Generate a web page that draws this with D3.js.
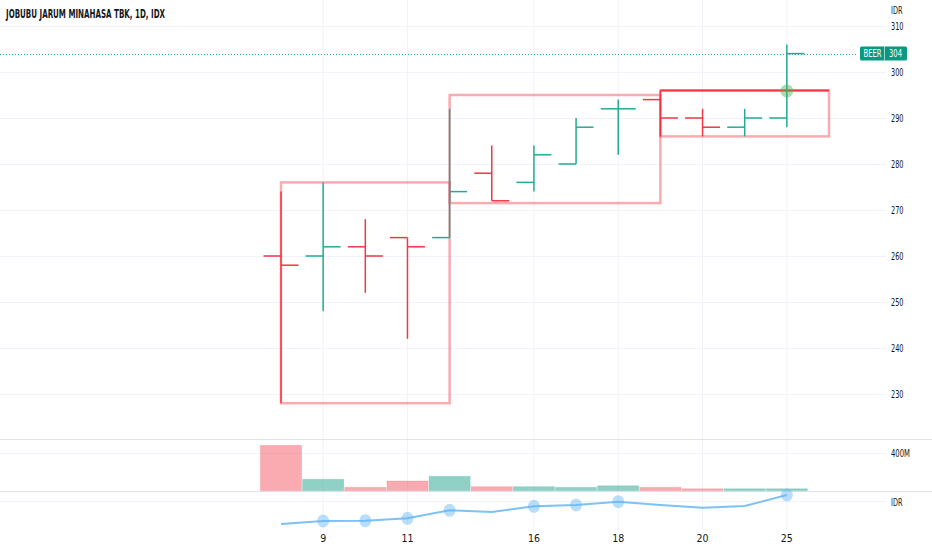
<!DOCTYPE html>
<html>
<head>
<meta charset="utf-8">
<script src="https://cdn.jsdelivr.net/npm/d3@7"></script>
<style>
html,body{margin:0;padding:0;background:#fff;}
svg{display:block;}
text{font-family:"Liberation Sans Narrow","DejaVu Sans Condensed","Liberation Sans",sans-serif;}
</style>
</head>
<body>
<svg id="chart" width="932" height="550"></svg>
<script>
// ---------- data ----------
const title = "JOBUBU JARUM MINAHASA TBK, 1D, IDX";
const barIndex = [0,1,2,3,4,5,6,7,8,9,10,11,12];
const opens  = [260,260,262,264,264,278,276,280,292,294,290,288,290];
const highs  = [274,276,268,264,292,284,284,290,294,296,292,292,306];
const lows   = [228,248,252,242,264,272,274,280,282,286,286,286,288];
const closes = [258,262,260,262,274,272,282,288,292,290,288,290,304];
const volumes = [485e6,122e6,36e6,104e6,154e6,43e6,43e6,36e6,53e6,36e6,21e6,21e6,21e6];
const indicator = [6,9,9.3,11.7,19.7,18,23.7,25,28.3,25,22.3,24,35];
const indicatorDots = [false,true,true,true,true,false,true,true,true,false,false,false,true];
const boxStart = [0,4,9];
const boxEnd   = [4,9,13];
const boxTop   = [276,295,296];
const boxBottom= [228,271.5,286];
const tickIndex = [1,3,6,8,10,12];
const tickLabels = ["9","11","16","18","20","25"];
const priceTicks = [230,240,250,260,270,280,290,300,310];
const volumeTicks = [400e6];
const lastPrice = 304;
const symbol = "BEER";
const breakoutIndex = 12;

// ---------- setup ----------
const svg = d3.select("#chart");
const W = 932, H = 550;
const GREEN = "#22ab94", RED = "#f23645";
const GRID = "#f0f3fa";
const x = d3.scaleLinear().domain([0,13]).range([281,829]);
const y = d3.scaleLinear().domain([230,310]).range([394,26]);
const yv = d3.scaleLinear().domain([0,400e6]).range([490.7,453.3]);
const yi = d3.scaleLinear().domain([0,40]).range([530,490]);
const plotRight = 886;
const axisX = 891;

// ---------- gridlines ----------
const grid = svg.append("g");
grid.selectAll(".vg").data(tickIndex).join("line")
  .attr("x1", d=>x(d)).attr("x2", d=>x(d)).attr("y1",0).attr("y2",530)
  .attr("stroke", GRID).attr("stroke-width",1);
grid.selectAll(".hg").data(priceTicks).join("line")
  .attr("x1",0).attr("x2",plotRight).attr("y1",d=>Math.round(y(d))+0.5).attr("y2",d=>Math.round(y(d))+0.5)
  .attr("stroke", GRID);
grid.selectAll(".vgl").data(volumeTicks).join("line")
  .attr("x1",0).attr("x2",plotRight).attr("y1",d=>Math.round(yv(d))+0.5).attr("y2",d=>Math.round(yv(d))+0.5)
  .attr("stroke", GRID);
grid.append("line").attr("x1",0).attr("x2",plotRight).attr("y1",501.5).attr("y2",501.5).attr("stroke",GRID);

// pane separators
svg.append("line").attr("x1",0).attr("x2",W).attr("y1",439.5).attr("y2",439.5).attr("stroke","#e0e3eb").attr("stroke-width",1);
svg.append("line").attr("x1",0).attr("x2",W).attr("y1",491.5).attr("y2",491.5).attr("stroke","#e0e3eb").attr("stroke-width",1);

// ---------- volume ----------
const bw = x(1)-x(0);
svg.append("g").selectAll("rect").data(barIndex).join("rect")
  .attr("x", i=>x(i)-bw/2+0.5).attr("width", bw-1)
  .attr("y", i=>yv(volumes[i])).attr("height", i=>yv(0)-yv(volumes[i]))
  .attr("fill", i=> closes[i]>=opens[i] ? "rgba(8,153,129,0.45)" : "rgba(242,54,69,0.42)")
  .attr("stroke", i=> closes[i]>=opens[i] ? "rgba(8,153,129,0.15)" : "rgba(242,54,69,0.15)")
  .attr("stroke-width",1);

// ---------- indicator line ----------
const line = d3.line().x(i=>x(i)).y(i=>yi(indicator[i]));
svg.append("path").datum(barIndex).attr("d", line)
  .attr("fill","none").attr("stroke","#7cc2f7").attr("stroke-width",2);
svg.append("g").selectAll("ellipse").data(barIndex.filter(i=>indicatorDots[i])).join("ellipse")
  .attr("cx", i=>x(i)).attr("cy", i=>yi(indicator[i])).attr("rx",6).attr("ry",6.5)
  .attr("fill","rgba(100,181,246,0.45)");

// ---------- last price dotted line ----------
svg.append("line").attr("x1",0).attr("x2",858).attr("y1",Math.round(y(lastPrice))+0.5).attr("y2",Math.round(y(lastPrice))+0.5)
  .attr("stroke","#22ab94").attr("stroke-width",1).attr("stroke-dasharray","1,2");

// ---------- boxes ----------
const boxes = svg.append("g");
boxes.selectAll("rect").data([0,1,2]).join("rect")
  .attr("x", k=>x(boxStart[k])).attr("width", k=>x(boxEnd[k])-x(boxStart[k]))
  .attr("y", k=>y(boxTop[k])).attr("height", k=>y(boxBottom[k])-y(boxTop[k]))
  .attr("fill","none").attr("stroke","rgba(242,54,69,0.42)").attr("stroke-width",2.5);
// active box top edge
boxes.append("line").attr("x1", x(boxStart[2])).attr("x2", x(boxEnd[2]))
  .attr("y1", y(boxTop[2])).attr("y2", y(boxTop[2]))
  .attr("stroke", RED).attr("stroke-width",2);

// ---------- OHLC bars ----------
const tk = 17.5;
const bars = svg.append("g").selectAll("g").data(barIndex).join("g")
  .attr("stroke", i=> closes[i]>=opens[i] ? GREEN : RED).attr("stroke-width",1.5);
bars.append("line").attr("x1",i=>x(i)).attr("x2",i=>x(i)).attr("y1",i=>y(highs[i])).attr("y2",i=>y(lows[i]));
bars.append("line").attr("x1",i=>x(i)-tk).attr("x2",i=>x(i)).attr("y1",i=>y(opens[i])).attr("y2",i=>y(opens[i]));
bars.append("line").attr("x1",i=>x(i)).attr("x2",i=>x(i)+tk).attr("y1",i=>y(closes[i])).attr("y2",i=>y(closes[i]));

// breakout marker
svg.append("circle").attr("cx", x(breakoutIndex)).attr("cy", y(boxTop[2])+0.5).attr("r",6.5)
  .attr("fill","rgba(76,175,80,0.45)");

// ---------- right axis ----------
const axisG = svg.append("g").attr("font-size",10.5).attr("fill","#131722");
const priceAxis = d3.axisRight(y).tickValues(priceTicks).tickSize(0).tickPadding(0).tickFormat(d3.format("d"));
const pa = svg.append("g").attr("transform",`translate(${axisX},0)`).call(priceAxis);
pa.select(".domain").remove();
pa.selectAll("text").attr("font-size",10.5).attr("fill","#131722")
  .attr("font-family",'"Liberation Sans Narrow","DejaVu Sans Condensed",sans-serif')
  .attr("textLength",12.5).attr("lengthAdjust","spacingAndGlyphs");

const volAxis = d3.axisRight(yv).tickValues(volumeTicks).tickSize(0).tickPadding(0).tickFormat(d=>d3.format("d")(d/1e6)+"M");
const va = svg.append("g").attr("transform",`translate(${axisX},0)`).call(volAxis);
va.select(".domain").remove();
va.selectAll("text").attr("font-size",10.5).attr("fill","#131722")
  .attr("font-family",'"Liberation Sans Narrow","DejaVu Sans Condensed",sans-serif')
  .attr("textLength",19).attr("lengthAdjust","spacingAndGlyphs");

axisG.append("text").attr("x",axisX).attr("y",13.5).text("IDR").attr("textLength",11.5).attr("lengthAdjust","spacingAndGlyphs");
axisG.append("text").attr("x",axisX).attr("y",505.5).text("IDR").attr("textLength",11.5).attr("lengthAdjust","spacingAndGlyphs");

// badge
const by = y(lastPrice);
const badge = svg.append("g");
badge.append("rect").attr("x",860).attr("y",by-7).attr("width",47).attr("height",14).attr("rx",1.5).attr("fill","#089981");
badge.append("line").attr("x1",884.5).attr("x2",884.5).attr("y1",by-7).attr("y2",by+7).attr("stroke","#ffffff").attr("stroke-opacity",0.6);
badge.append("text").attr("x",872.5).attr("y",by+3.8).attr("text-anchor","middle").attr("fill","#fff").attr("font-size",10.5)
  .text(symbol).attr("textLength",18).attr("lengthAdjust","spacingAndGlyphs");
badge.append("text").attr("x",895.5).attr("y",by+3.8).attr("text-anchor","middle").attr("fill","#fff").attr("font-size",10.5)
  .text(d3.format("d")(lastPrice)).attr("textLength",13).attr("lengthAdjust","spacingAndGlyphs");

// ---------- x axis ----------
const xa = svg.append("g").attr("font-size",10.5).attr("fill","#131722");
xa.selectAll("text").data(tickIndex).join("text")
  .attr("x", i=>x(i)).attr("y",542).attr("text-anchor","middle")
  .text((d,k)=>tickLabels[k]);

// ---------- title ----------
svg.append("text").attr("x",6).attr("y",17.5).attr("font-size",12).attr("font-weight","bold").attr("fill","#131722")
  .text(title).attr("textLength",159).attr("lengthAdjust","spacingAndGlyphs");
</script>
</body>
</html>
